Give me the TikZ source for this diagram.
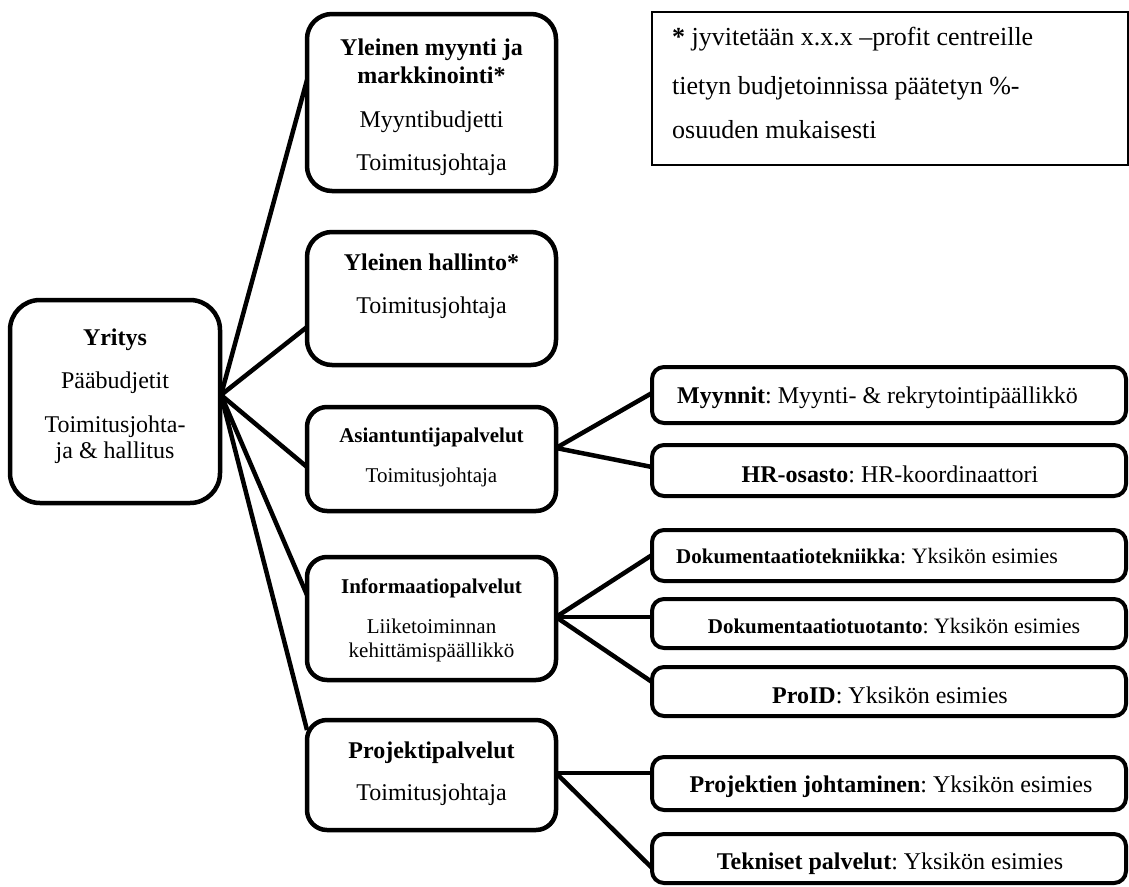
\documentclass[tikz,border=0pt]{standalone}
\usepackage{fontspec}
\setmainfont{Liberation Serif}
\frenchspacing
\begin{document}
\begin{tikzpicture}[x=1pt,y=-1pt,
  unitbox/.style={draw, line width=4.5pt, rounded corners=#1, inner sep=0pt},
  subbox/.style={draw, line width=4pt, rounded corners=12pt, inner sep=0pt,
                 minimum width=474pt},
  notebox/.style={draw, line width=2pt, inner sep=0pt},
  link/.style={line width=4.5pt},
  txt/.style={inner sep=0pt, anchor=base},
  txtl/.style={inner sep=0pt, anchor=base west},
  fa/.style={font=\fontsize{24}{28}\selectfont},
  fb/.style={font=\fontsize{21}{25}\selectfont},
  fc/.style={font=\fontsize{26}{30}\selectfont},
]
\useasboundingbox (0,0) rectangle (1129,886);

% ---- main units ----
\node[unitbox=30pt, minimum width=210pt, minimum height=203pt] (yritys) at (115,401.5) {};
\node[unitbox=25pt, minimum width=249pt, minimum height=177pt] (ym) at (431.5,102.5) {};
\node[unitbox=25pt, minimum width=249pt, minimum height=133pt] (yh) at (431.5,298.5) {};
\node[unitbox=20pt, minimum width=249pt, minimum height=104pt] (ap) at (431.5,459) {};
\node[unitbox=20pt, minimum width=249pt, minimum height=123pt] (ip) at (431.5,618.5) {};
\node[unitbox=20pt, minimum width=249pt, minimum height=110pt] (pp) at (431.5,775) {};

% ---- sub units ----
\node[subbox, minimum height=56pt] (my) at (889,395) {};
\node[subbox, minimum height=51pt] (hr) at (889,470.5) {};
\node[subbox, minimum height=51pt] (dt) at (889,555.5) {};
\node[subbox, minimum height=49pt] (du) at (889,623.5) {};
\node[subbox, minimum height=49pt] (pi) at (889,691.5) {};
\node[subbox, minimum height=53pt] (pj) at (889,783.5) {};
\node[subbox, minimum height=49pt] (tp) at (889,858.5) {};

% ---- footnote box ----
\node[notebox, minimum width=476pt, minimum height=153pt] (note) at (890,88.5) {};

% ---- texts ----
\node[txt, fa] (yr1) at (115,345) {\textbf{Yritys}};
\node[txt, fa] (yr2) at (115,388) {Pääbudjetit};
\node[txt, fa] (yr3) at (115,432) {Toimitusjohta-};
\node[txt, fa] (yr4) at (115,458) {ja \& hallitus};

\node[txt, fa] (ym1) at (431.5,55) {\textbf{Yleinen myynti ja}};
\node[txt, fa] (ym2) at (431.5,83) {\textbf{markkinointi*}};
\node[txt, fa] (ym3) at (431.5,127) {Myyntibudjetti};
\node[txt, fa] (ym4) at (431.5,170) {Toimitusjohtaja};

\node[txt, fa] (yh1) at (431.5,270) {\textbf{Yleinen hallinto*}};
\node[txt, fa] (yh2) at (431.5,313) {Toimitusjohtaja};

\node[txt, fb] (ap1) at (431.5,442) {\textbf{Asiantuntijapalvelut}};
\node[txt, fb] (ap2) at (431.5,482) {Toimitusjohtaja};

\node[txt, fb] (ip1) at (431.5,593) {\textbf{Informaatiopalvelut}};
\node[txt, fb] (ip2) at (431.5,633) {Liiketoiminnan};
\node[txt, fb] (ip3) at (431.5,657) {kehittämispäällikkö};

\node[txt, fa] (pp1) at (431.5,758) {\textbf{Projektipalvelut}};
\node[txt, fa] (pp2) at (431.5,800) {Toimitusjohtaja};

\node[txtl, fa] (myt) at (677,403) {\textbf{Myynnit}: Myynti- \& rekrytointipäällikkö};
\node[txt, fa] (hrt) at (890,482) {\textbf{HR-osasto}: HR-koordinaattori};
\node[txtl] (dtt) at (676,563) {\fontsize{21}{25}\selectfont\textbf{Dokumentaatiotekniikka}\fontsize{22}{26}\selectfont: Yksikön esimies};
\node[txt] (dut) at (894,633) {\fontsize{21}{25}\selectfont\textbf{Dokumentaatiotuotanto}\fontsize{22}{26}\selectfont: Yksikön esimies};
\node[txt, fa] (pit) at (890,703) {\textbf{ProID}: Yksikön esimies};
\node[txt, fa] (pjt) at (891,792) {\textbf{Projektien johtaminen}: Yksikön esimies};
\node[txt, fa] (tpt) at (890,869) {\textbf{Tekniset palvelut}: Yksikön esimies};

\node[txtl, fc] (n1) at (672,45) {\textbf{*} jyvitetään x.x.x –profit centreille};
\node[txtl, fc] (n2) at (672,94) {tietyn budjetoinnissa päätetyn \%-};
\node[txtl, fc] (n3) at (672,138) {osuuden mukaisesti};

% ---- connector points ----
\coordinate (hub) at (221,395);
\coordinate (ymIn) at (307,80);
\coordinate (yhIn) at (307,327);
\coordinate (apIn) at (307,467);
\coordinate (ipIn) at (307,595);
\coordinate (ppIn) at (307,730);

\coordinate (apOut) at (556,448);
\coordinate (myIn) at (652,393);
\coordinate (hrIn) at (652,467);

\coordinate (ipOut) at (556,617);
\coordinate (dtIn) at (652,555);
\coordinate (duIn) at (652,617);
\coordinate (piIn) at (652,682);

\coordinate (ppOut) at (556,773);
\coordinate (pjIn) at (652,773);
\coordinate (tpIn) at (652,868);

% ---- connectors ----
\foreach \t in {ymIn,yhIn,apIn,ipIn,ppIn} \draw[link] (hub) -- (\t);
\foreach \t in {myIn,hrIn} \draw[link] (apOut) -- (\t);
\foreach \t in {dtIn,duIn,piIn} \draw[link] (ipOut) -- (\t);
\foreach \t in {pjIn,tpIn} \draw[link] (ppOut) -- (\t);
\end{tikzpicture}
\end{document}
